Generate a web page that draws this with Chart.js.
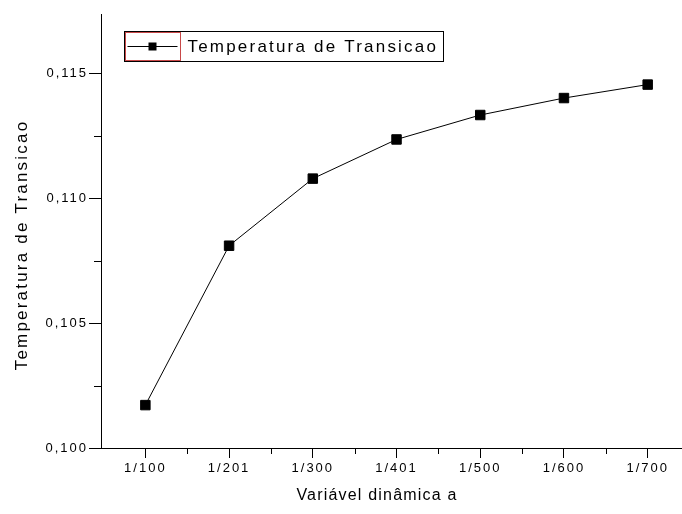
<!DOCTYPE html>
<html>
<head>
<meta charset="utf-8">
<script src="https://cdn.jsdelivr.net/npm/chart.js@4.4.1/dist/chart.umd.min.js"></script>
<style>
  html, body { margin: 0; padding: 0; background: #fff; overflow: hidden; }
  #wrap { width: 682px; height: 514px; }
</style>
</head>
<body>
<div id="wrap"><canvas id="c" width="682" height="514"></canvas></div>
<script>
// Data
const categories = ['1/100', '1/201', '1/300', '1/401', '1/500', '1/600', '1/700'];
const temperatura = [0.10172, 0.10811, 0.11080, 0.11237, 0.11335, 0.11403, 0.11457];
const yMajorTicks = [0.100, 0.105, 0.110, 0.115];
const yMinorTicks = [0.1025, 0.1075, 0.1125];
const xMinorTicks = [1.5, 2.5, 3.5, 4.5, 5.5, 6.5];
const seriesLabel = 'Temperatura de Transicao';
const xTitle = 'Variável dinâmica a';
const yTitle = 'Temperatura de Transicao';

const FONT = "'Liberation Sans', Arial, sans-serif";

function spacedText(ctx, text, x, y, size, spacing, align) {
    ctx.font = size + 'px ' + FONT;
    ctx.letterSpacing = spacing + 'px';
    ctx.textAlign = align;
    ctx.textBaseline = 'middle';
    ctx.fillText(text, x, y);
}

// Origin-style legend box, titles and short minor ticks
const originExtras = {
    id: 'originExtras',
    beforeDraw(chart) {
        // wide letter spacing of the old Origin export, used by the tick labels
        chart.ctx.letterSpacing = '2px';
    },
    afterDraw(chart) {
        const ctx = chart.ctx;
        const xs = chart.scales.x, ys = chart.scales.y;
        ctx.save();
        ctx.strokeStyle = '#000';
        ctx.lineWidth = 1;
        ctx.beginPath();
        // minor ticks
        xMinorTicks.forEach(v => {
            const px = Math.round(xs.getPixelForValue(v)) + 0.5;
            ctx.moveTo(px, ys.bottom);
            ctx.lineTo(px, ys.bottom + 6);
        });
        yMinorTicks.forEach(v => {
            const py = Math.round(ys.getPixelForValue(v)) + 0.5;
            ctx.moveTo(xs.left, py);
            ctx.lineTo(xs.left - 7, py);
        });
        ctx.stroke();

        ctx.fillStyle = '#000';
        // axis titles
        spacedText(ctx, xTitle, 377, 496, 16, 1.2, 'center');
        ctx.save();
        ctx.translate(22, 245);
        ctx.rotate(-Math.PI / 2);
        spacedText(ctx, yTitle, 0, 0, 17, 2.2, 'center');
        ctx.restore();

        // legend
        const lx = 124.5, ly = 31.5, lw = 319, lh = 30;
        ctx.strokeRect(lx, ly, lw, lh);
        ctx.strokeStyle = '#c84848';
        ctx.strokeRect(lx + 1, ly + 1, 55, lh - 2);
        ctx.strokeStyle = '#000';
        ctx.beginPath();
        ctx.moveTo(lx + 3, ly + 15);
        ctx.lineTo(lx + 53, ly + 15);
        ctx.stroke();
        ctx.fillRect(lx + 24, ly + 11, 8, 8);
        spacedText(ctx, seriesLabel, lx + 63, ly + 15.5, 17, 2.2, 'left');
        ctx.restore();
    }
};

const config = {
    type: 'line',
    data: {
        datasets: [{
            label: seriesLabel,
            data: temperatura.map((v, i) => ({ x: i + 1, y: v })),
            borderColor: '#000',
            backgroundColor: '#000',
            borderWidth: 1,
            pointStyle: 'rect',
            pointRadius: 6.7,
            pointBorderWidth: 1,
            tension: 0,
            fill: false
        }]
    },
    options: {
        responsive: false,
        animation: false,
        layout: { autoPadding: false, padding: { top: 14, right: 0, bottom: 0, left: 0 } },
        plugins: {
            legend: { display: false },
            tooltip: { enabled: false }
        },
        scales: {
            x: {
                type: 'linear',
                min: 0.47,
                max: 7.41,
                afterBuildTicks: s => { s.ticks = categories.map((c, i) => ({ value: i + 1 })); },
                afterFit: s => { s.height = 66; s.paddingLeft = 0; s.paddingRight = 0; },
                border: { color: '#000', width: 1 },
                grid: { drawOnChartArea: false, color: '#000', tickColor: '#000', tickLength: 10 },
                ticks: {
                    color: '#000',
                    padding: 3,
                    maxRotation: 0,
                    autoSkip: false,
                    font: { family: FONT, size: 13 },
                    callback: v => categories[Math.round(v) - 1]
                }
            },
            y: {
                min: 0.100,
                max: 0.1174,
                afterBuildTicks: s => { s.ticks = yMajorTicks.map(v => ({ value: v })); },
                afterFit: s => { s.width = 101; },
                border: { color: '#000', width: 1 },
                grid: { drawOnChartArea: false, color: '#000', tickColor: '#000', tickLength: 12 },
                ticks: {
                    color: '#000',
                    padding: 1,
                    font: { family: FONT, size: 13 },
                    callback: v => v.toFixed(3).replace('.', ',')
                }
            }
        }
    },
    plugins: [originExtras]
};

new Chart(document.getElementById('c'), config);
</script>
</body>
</html>
